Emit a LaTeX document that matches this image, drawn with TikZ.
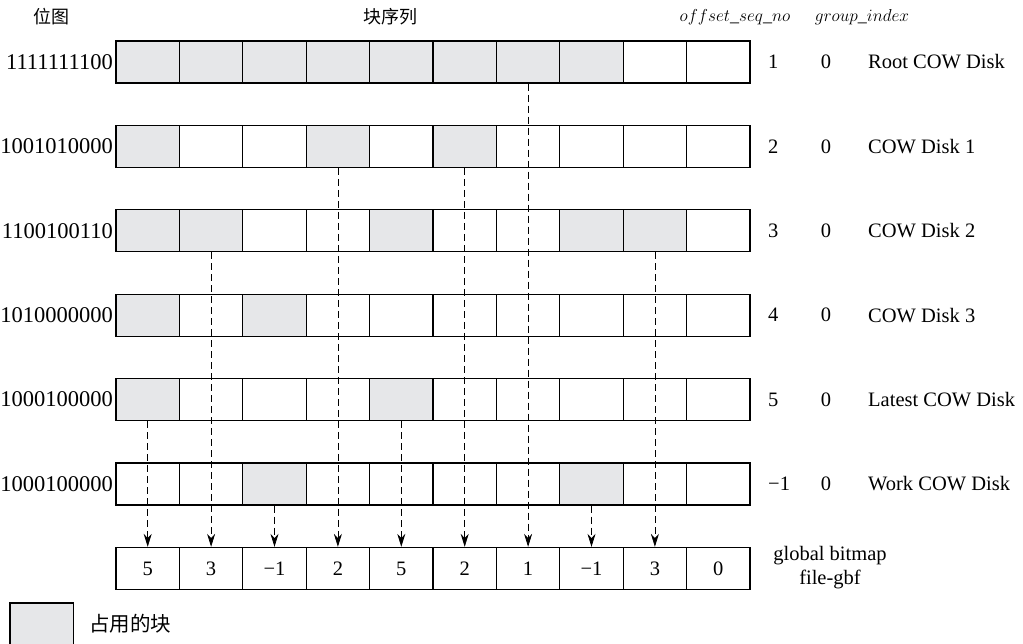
\documentclass[tikz,border=0pt]{standalone}
\usepackage{fontspec}
\setmainfont{Liberation Serif}
\newfontfamily\cjk{Noto Sans CJK SC}
\usepackage{xstring}
\usepackage{tikz}
\usetikzlibrary{positioning,arrows.meta}
\definecolor{used}{RGB}{230,231,233}

\begin{document}
\begin{tikzpicture}[x=1pt, y=-1pt,
			font=\fontsize{20.5}{24}\selectfont,
			cell/.style={draw, line width=1.1pt, rectangle, minimum width=63.4pt, minimum height=42pt, inner sep=0pt},
			txt/.style={inner sep=0pt},
			head/.style={inner sep=0pt, font=\fontsize{18}{20}\selectfont},
			link/.style={-{Stealth[length=13pt, width=8pt]}, line width=0.8pt, dash pattern=on 7pt off 4pt}]
			\useasboundingbox (0,0) rectangle (1023,644);
			
			% headers
			\node[head] (hbits) at (51,17) {\cjk 位图};
			\node[head] (hseq) at (390,17) {\cjk 块序列};
			\node[head] (hoff) at (735,17) {$offset\_seq\_no$};
			\node[head] (hgrp) at (862,17) {$group\_index$};
			
			% cow disks
			\foreach \bits/\used/\seq/\name [count=\r] in {1111111100/1111111100/1/Root COW Disk, 1001010000/1001010000/2/COW Disk 1, 1100100110/1100100110/3/COW Disk 2, 1010000000/1010000000/4/COW Disk 3, 1000100000/1000100000/5/Latest COW Disk, 1000100000/0010000100/−1/Work COW Disk}{
				\pgfmathsetmacro\yy{62+84.4*(\r-1)}
				\node[txt, anchor=east, font=\fontsize{22.5}{24}\selectfont] (bits\r) at (113,\yy) {\bits};
				\foreach \i in {1,...,10}{
					\StrChar{\used}{\i}[\b]
					\ifnum\b=1 \def\cf{used}\else\def\cf{white}\fi
					\node[cell, fill=\cf] (c\r-\i) at ({116+63.4*(\i-0.5)},\yy) {};
				}
				\node[txt, anchor=west] (seq\r) at (768,\yy) {\seq};
				\node[txt] (grp\r) at (826,\yy) {0};
				\node[txt, anchor=west] (name\r) at (868,\yy) {\name};
			}
			
			% global bitmap
			\foreach \v [count=\i] in {5,3,−1,2,5,2,1,−1,3,0}
				\node[cell] (g-\i) at ({116+63.4*(\i-0.5)},568.4) {\v};
			\node[txt, align=center] (gbf) at (830,568) {global bitmap\\file-gbf};
			
			\foreach \i/\r in {1/5,2/3,3/6,4/2,5/5,6/2,7/1,8/6,9/3}
				\draw[link] (c\r-\i.south) -- (g-\i.north);
			
			% legend
			\node[cell, fill=used] (key) at (41.7,624) {};
			\node[txt, anchor=west, right=15pt of key] (keytxt) {\cjk 占用的块};
			
		\end{tikzpicture}
\end{document}
